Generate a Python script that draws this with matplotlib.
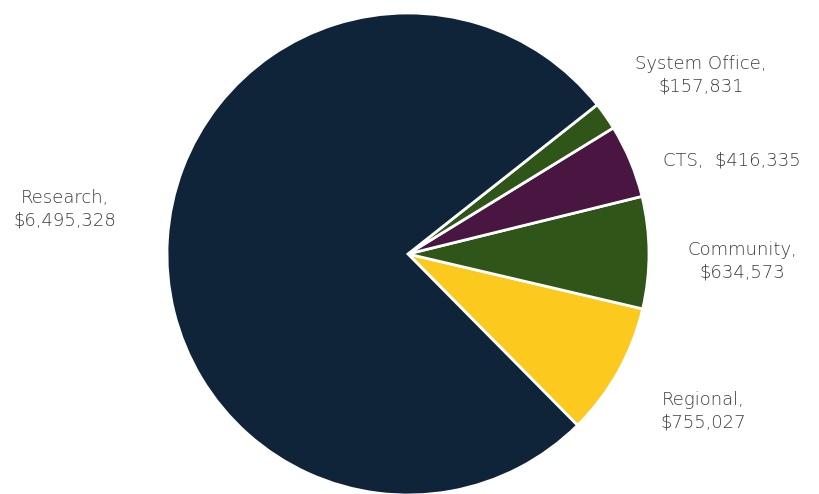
import matplotlib.pyplot as plt

labels = ['Regional', 'Community', 'CTS', 'System Office', 'Research']
values = [755027, 634573, 416335, 157831, 6495328]
colors = ['#fcc91e', '#2f5618', '#481640', '#2f5618', '#0f2339']

# label text positions in pixel space (x, y from top)
label_pos = [(703, 411), (742, 261), (732, 160), (701, 75), (65, 209)]
label_text = ['Regional,\n$755,027', 'Community,\n$634,573', 'CTS,  $416,335',
              'System Office,\n$157,831', 'Research,\n$6,495,328']

W, H = 820, 494
fig = plt.figure(figsize=(W / 100, H / 100), dpi=100)
ax = fig.add_axes([0, 0, 1, 1])
ax.axis('off')

ax.pie(values, colors=colors, startangle=-45.3, counterclock=True,
       center=(408, H - 254), radius=241,
       wedgeprops=dict(edgecolor='white', linewidth=2))
ax.set_aspect('equal')
ax.set_xlim(0, W)
ax.set_ylim(0, H)

for (x, y), t in zip(label_pos, label_text):
    ax.text(x, H - y, t, ha='center', va='center', fontsize=13,
            color='#3c3c3c', linespacing=1.3, family='DejaVu Sans',
            fontweight='light')

fig.savefig('out.png', dpi=100)
